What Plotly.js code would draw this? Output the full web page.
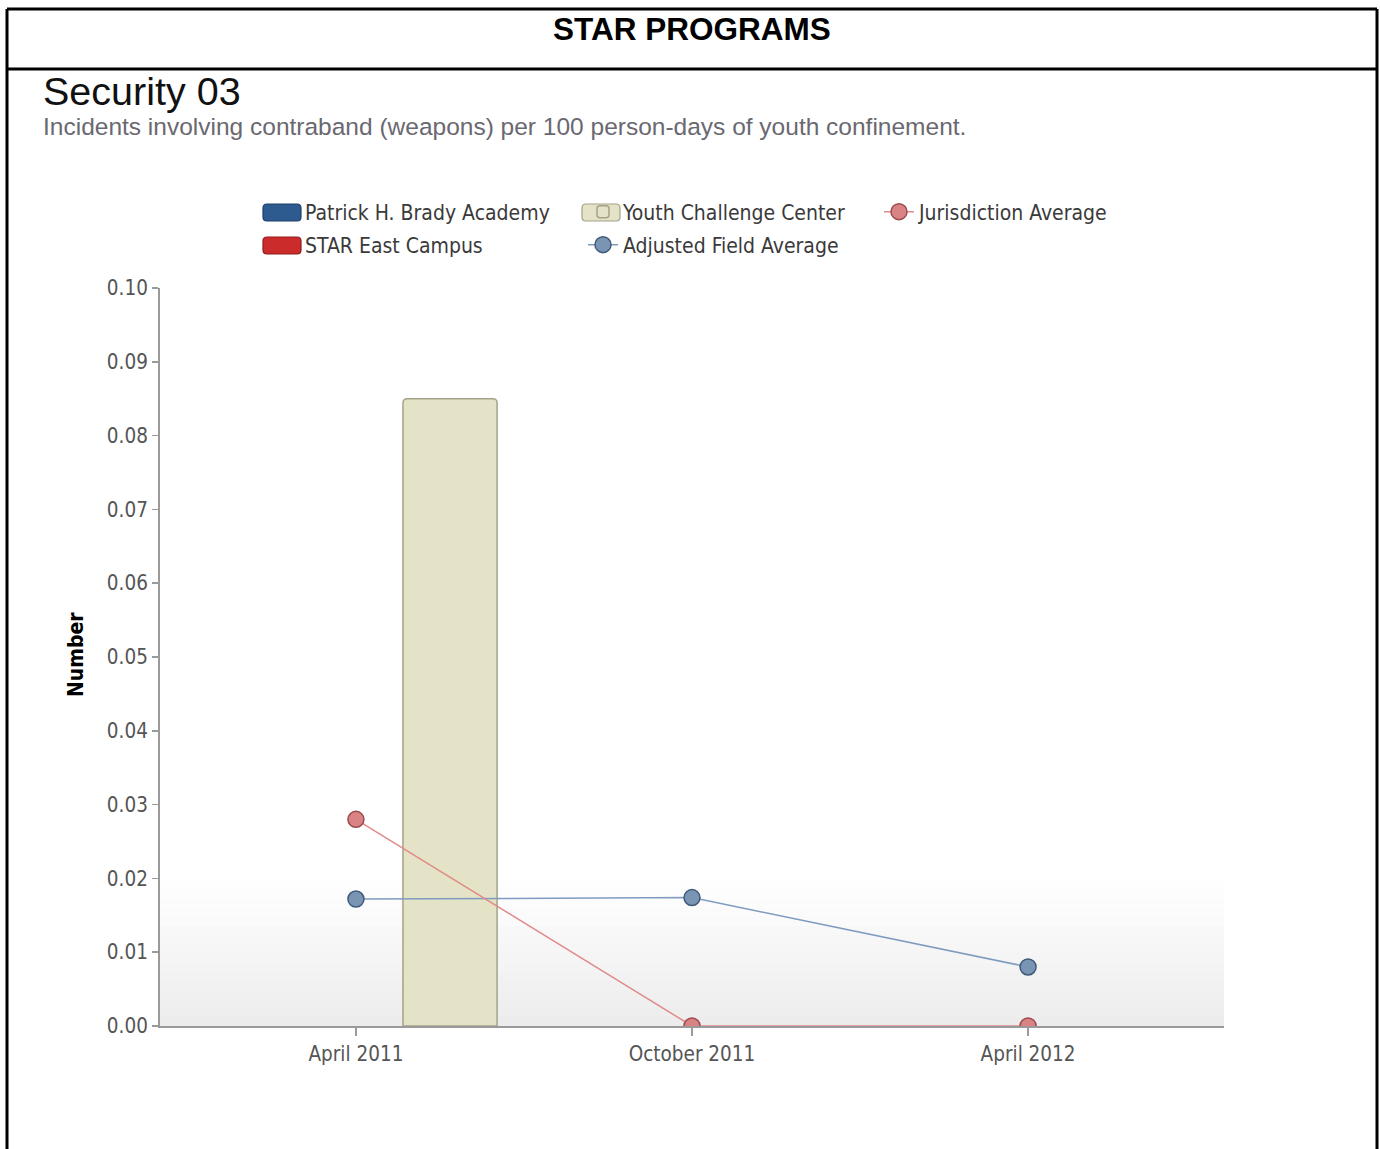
<!DOCTYPE html>
<html><head><meta charset="utf-8">
<script src="https://cdn.plot.ly/plotly-3.0.1.min.js"></script>
<style>html,body{margin:0;padding:0;background:#fff}#chart{width:1380px;height:1149px}</style>
</head><body><div id="chart"></div>
<script>
// ---- data ----
const categories = ['April 2011', 'October 2011', 'April 2012'];
const patrickBrady = [0, 0, 0];
const starEast = [0, 0, 0];
const youthChallenge = [0.085, 0, 0];
const adjustedFieldAvg = [0.0172, 0.0174, 0.008];
const jurisdictionAvg = [0.028, 0, 0];
const yTickVals = [0, 0.01, 0.02, 0.03, 0.04, 0.05, 0.06, 0.07, 0.08, 0.09, 0.10];
const yTickText = ['0.00', '0.01', '0.02', '0.03', '0.04', '0.05', '0.06', '0.07', '0.08', '0.09', '0.10'];

// ---- geometry helpers (pixel -> paper) ----
const W = 1380, H = 1149, L = 160, R = 1224, T = 288, B = 1026;
const px = p => (p - L) / (R - L);
const py = p => (B - p) / (B - T);
const cx = p => p / W;
const cy = p => 1 - p / H;

const FONT = 'DejaVu Sans Condensed, DejaVu Sans, sans-serif';
const legFont = {family: FONT, size: 21, color: '#3a3a3a'};

const colPatrick = '#2d5b8f', colStar = '#cc2b2b', colYouth = '#e5e3c7';

const traces = [
  {type: 'bar', name: 'Patrick H. Brady Academy', x: categories, y: patrickBrady,
   marker: {color: colPatrick, line: {color: colPatrick, width: 0}, cornerradius: 4},
   legend: 'legend', hoverinfo: 'y'},
  {type: 'bar', name: 'STAR East Campus', x: categories, y: starEast,
   marker: {color: colStar, line: {color: colStar, width: 0}, cornerradius: 4},
   legend: 'legend4', hoverinfo: 'y'},
  {type: 'bar', name: 'Youth Challenge Center', x: categories, y: youthChallenge,
   marker: {color: colYouth, line: {color: '#a3a288', width: [1.5, 0, 0]}, cornerradius: 4},
   legend: 'legend2', hoverinfo: 'y'},
  {type: 'scatter', mode: 'lines+markers', name: 'Adjusted Field Average', x: categories, y: adjustedFieldAvg,
   line: {color: '#7f9bbf', width: 1.5},
   marker: {color: '#7a94b4', size: 16, line: {color: '#3f5a7a', width: 1.5}},
   legend: 'legend5'},
  {type: 'scatter', mode: 'lines+markers', name: 'Jurisdiction Average', x: categories, y: jurisdictionAvg,
   line: {color: '#e08a8a', width: 1.5},
   marker: {color: '#d98384', size: 16, line: {color: '#9a4a4c', width: 1.5}},
   legend: 'legend3'}
];

function leg(xp, yp) {
  return {x: cx(xp), y: cy(yp), xref: 'container', yref: 'container', xanchor: 'left', yanchor: 'middle',
          orientation: 'h', font: legFont, bgcolor: 'rgba(0,0,0,0)', borderwidth: 0};
}

const shapes = [];
// subtle gradient at bottom of plot area
const gTop = 880, steps = 16;
for (let i = 0; i < steps; i++) {
  const y0 = gTop + (B - gTop) * i / steps, y1 = gTop + (B - gTop) * (i + 1) / steps;
  const a = 0.075 * (i + 0.5) / steps;
  shapes.push({type: 'rect', xref: 'paper', yref: 'paper', x0: 0, x1: 1, y0: py(y1), y1: py(y0),
               fillcolor: 'rgba(0,0,0,' + a.toFixed(4) + ')', line: {width: 0}, layer: 'below'});
}
// legend swatches for bar series (wide rounded boxes behind the legend symbols)
function roundRect(x0, y0, x1, y1, r) {
  const X = p => px(p).toFixed(5), Y = p => py(p).toFixed(5);
  return 'M' + X(x0 + r) + ',' + Y(y0) + ' L' + X(x1 - r) + ',' + Y(y0) +
    ' Q' + X(x1) + ',' + Y(y0) + ' ' + X(x1) + ',' + Y(y0 + r) +
    ' L' + X(x1) + ',' + Y(y1 - r) + ' Q' + X(x1) + ',' + Y(y1) + ' ' + X(x1 - r) + ',' + Y(y1) +
    ' L' + X(x0 + r) + ',' + Y(y1) + ' Q' + X(x0) + ',' + Y(y1) + ' ' + X(x0) + ',' + Y(y1 - r) +
    ' L' + X(x0) + ',' + Y(y0 + r) + ' Q' + X(x0) + ',' + Y(y0) + ' ' + X(x0 + r) + ',' + Y(y0) + ' Z';
}
[[263, 204, colPatrick, '#1f3f66'], [263, 237, colStar, '#8f1c1c'], [582, 204, colYouth, '#a3a288']].forEach(s => {
  shapes.push({type: 'path', xref: 'paper', yref: 'paper', path: roundRect(s[0], s[1], s[0] + 38, s[1] + 17, 4),
               fillcolor: s[2], line: {color: s[3], width: 1.2}});
});
// outer frame
const frame = {color: '#000', width: 3};
shapes.push({type: 'line', xref: 'paper', yref: 'paper', x0: px(7), x1: px(1377), y0: py(9), y1: py(9), line: frame});
shapes.push({type: 'line', xref: 'paper', yref: 'paper', x0: px(7), x1: px(1377), y0: py(69), y1: py(69), line: frame});
shapes.push({type: 'line', xref: 'paper', yref: 'paper', x0: px(7), x1: px(7), y0: py(9), y1: py(1160), line: frame});
shapes.push({type: 'line', xref: 'paper', yref: 'paper', x0: px(1377), x1: px(1377), y0: py(9), y1: py(1160), line: frame});

const annotations = [
  {text: '<b>STAR PROGRAMS</b>', xref: 'paper', yref: 'paper', x: px(692), y: py(29), xanchor: 'center', yanchor: 'middle',
   showarrow: false, font: {family: 'Liberation Sans, Arial, sans-serif', size: 31.5, color: '#000'}},
  {text: 'Security 03', xref: 'paper', yref: 'paper', x: px(41), y: py(91), xanchor: 'left', yanchor: 'middle',
   showarrow: false, font: {family: 'Liberation Sans, Arial, sans-serif', size: 39.5, color: '#111'}},
  {text: 'Incidents involving contraband (weapons) per 100 person-days of youth confinement.', xref: 'paper', yref: 'paper',
   x: px(41), y: py(127), xanchor: 'left', yanchor: 'middle', showarrow: false,
   font: {family: 'Liberation Sans, Arial, sans-serif', size: 24.5, color: '#6a6870'}},
  {text: '<b>Number</b>', xref: 'paper', yref: 'paper', x: px(76), y: py(655), xanchor: 'center', yanchor: 'middle',
   textangle: -90, showarrow: false, font: {family: FONT, size: 21, color: '#000'}}
];

const tickFont = {family: FONT, size: 20.5, color: '#555'};
const layout = {
  width: W, height: H,
  margin: {l: L, r: W - R, t: T, b: H - B, pad: 0},
  paper_bgcolor: '#fff', plot_bgcolor: '#fff',
  font: {family: FONT, size: 20, color: '#555'},
  barmode: 'group', bargap: 0.16, bargroupgap: 0,
  showlegend: true,
  legend: leg(265, 212),
  legend2: leg(583, 212),
  legend3: leg(879, 212),
  legend4: leg(265, 245),
  legend5: leg(583, 245),
  xaxis: {type: 'category', range: [-0.583, 2.583], showline: true, linecolor: '#9a9a9a', linewidth: 2,
          ticks: 'outside', ticklen: 8, tickcolor: '#9a9a9a', tickwidth: 1.5, showgrid: false, zeroline: false,
          tickfont: tickFont, fixedrange: true},
  yaxis: {range: [0, 0.1], tickvals: yTickVals, ticktext: yTickText, showline: true, linecolor: '#9a9a9a', linewidth: 2,
          ticks: 'outside', ticklen: 6, tickcolor: '#9a9a9a', tickwidth: 1.5, showgrid: false, zeroline: false,
          tickfont: tickFont, fixedrange: true},
  shapes: shapes,
  annotations: annotations
};

Plotly.newPlot('chart', traces, layout, {displayModeBar: false, staticPlot: true});
</script></body></html>
